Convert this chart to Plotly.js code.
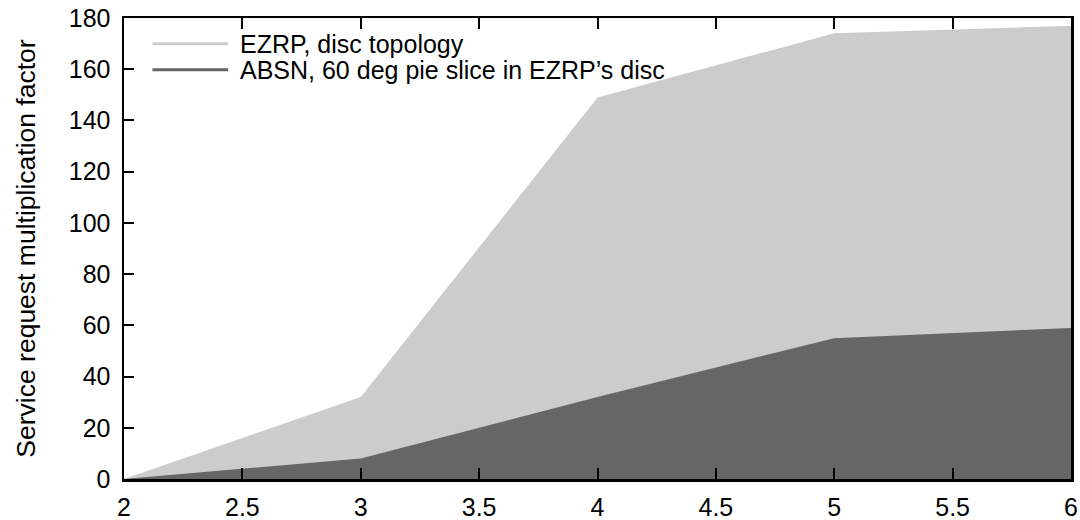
<!DOCTYPE html>
<html><head><meta charset="utf-8">
<script src="https://cdn.plot.ly/plotly-3.0.1.min.js"></script>
<style>body{margin:0;background:#fff}#c{width:1080px;height:520px}</style>
</head><body><div id="c"></div>
<script>
const xVals = [2, 3, 4, 5, 6];
const ezrp = [0, 32, 149, 174, 177];
const absn = [0, 8, 32, 55, 59];
const names = ["EZRP, disc topology", "ABSN, 60 deg pie slice in EZRP\u2019s disc"];
const colors = ["#cccccc", "#666666"];

const traces = [
  {x: xVals, y: ezrp, type: 'scatter', mode: 'lines', fill: 'tozeroy', fillcolor: colors[0], line: {width: 0, color: colors[0]}, showlegend: false, hoverinfo: 'skip'},
  {x: xVals, y: absn, type: 'scatter', mode: 'lines', fill: 'tozeroy', fillcolor: colors[1], line: {width: 0, color: colors[1]}, showlegend: false, hoverinfo: 'skip'}
];

const fam = 'Liberation Sans, Arial, sans-serif';
const font = {family: fam, size: 25, color: '#000'};
const tickFont = {family: fam, size: 25, color: '#000'};
const shapes = [], annotations = [];
names.forEach((n, i) => {
  const yy = 0.944 - i * 0.056;
  shapes.push({type: 'line', xref: 'paper', yref: 'paper', x0: 0.03, x1: 0.11, y0: yy, y1: yy, line: {color: colors[i], width: 3}});
  annotations.push({xref: 'paper', yref: 'paper', x: 0.12, y: yy, text: n, showarrow: false, xanchor: 'left', yanchor: 'middle', font: font});
});

const layout = {
  width: 1080, height: 520,
  margin: {l: 124, r: 9, t: 18, b: 41},
  paper_bgcolor: '#fff', plot_bgcolor: '#fff',
  font: font,
  showlegend: false,
  xaxis: {range: [2, 6], tickvals: [2, 2.5, 3, 3.5, 4, 4.5, 5, 5.5, 6], ticktext: ['2','2.5','3','3.5','4','4.5','5','5.5','6'],
    ticks: 'inside', ticklen: 11, tickwidth: 2, tickcolor: '#000', showline: true, linecolor: '#000', linewidth: 2.5, mirror: 'allticks',
    showgrid: false, zeroline: false, tickfont: tickFont, ticklabelstandoff: 4},
  yaxis: {range: [0, 180], dtick: 20, ticks: 'inside', ticklen: 10, tickwidth: 2, tickcolor: '#000', showline: true, linecolor: '#000', linewidth: 2.5, mirror: true,
    showgrid: false, zeroline: false, tickfont: tickFont, ticklabelstandoff: 6,
    title: {text: 'Service request multiplication factor', font: {family: fam, size: 26.5, color: '#000'}, standoff: 26}},
  shapes: shapes,
  annotations: annotations
};
Plotly.newPlot('c', traces, layout, {staticPlot: true});
</script></body></html>
